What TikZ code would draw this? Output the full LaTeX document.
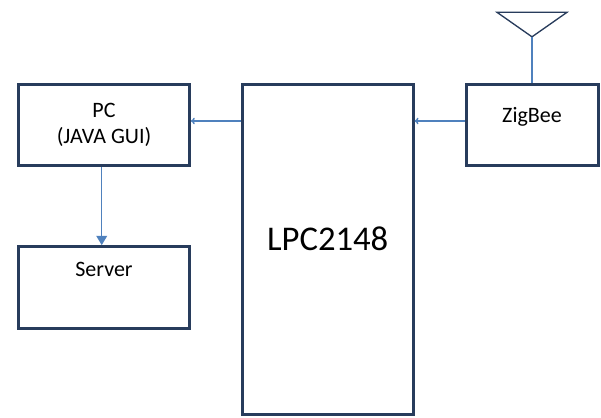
\documentclass[tikz,border=0pt]{standalone}
\usepackage{fontspec}
\setmainfont{Carlito}
\usetikzlibrary{positioning,arrows.meta}
\definecolor{boxline}{RGB}{40,60,92}
\definecolor{wire}{RGB}{79,129,189}

\begin{document}
\begin{tikzpicture}[
    box/.style = {draw=boxline, line width=2.25pt, minimum width=128pt, minimum height=61pt,
                  align=center, font=\fontsize{16.5}{19.5}\selectfont},
    wire/.style = {draw=wire, line width=1.1pt}
]
    \useasboundingbox (-78pt,93.75pt) rectangle (372.75pt,-219.75pt);

    \node [box] (pc) at (0,0) {PC\\(JAVA GUI)};
    \node [box, below=58.5pt of pc, text height=4pt, text depth=21pt] (server) {Server};
    \node [box, right=37.5pt of pc.north east, anchor=north west, minimum height=247.5pt,
           font=\fontsize{26}{30}\selectfont, text height=10pt, text depth=8.2pt] (lpc) {LPC2148};
    \node [box, right=37.5pt of lpc.north east, anchor=north west, minimum width=99pt,
           text height=6pt, text depth=9.75pt] (zig) {ZigBee};

    % antenna
    \coordinate [above=34.5pt of zig.north] (apex);
    \draw [draw=boxline, line width=1pt] (apex) -- ++(-26.25pt,18.4pt) -- ++(52.5pt,0) -- cycle;
    \draw [wire] (zig.north) -- (apex);

    \draw [wire, -{To[length=3pt,width=5pt]}] ([yshift=3pt]zig.west) -- ([yshift=3pt]zig.west -| lpc.east);
    \draw [wire, -{To[length=3pt,width=5pt]}] ([yshift=3pt]lpc.west |- pc.east) -- ([yshift=3pt]pc.east);
    \draw [wire, -{Triangle[length=7pt,width=8pt]}] ([xshift=-1.7pt]pc.south) -- ([xshift=-1.7pt]server.north);

\end{tikzpicture}
\end{document}
